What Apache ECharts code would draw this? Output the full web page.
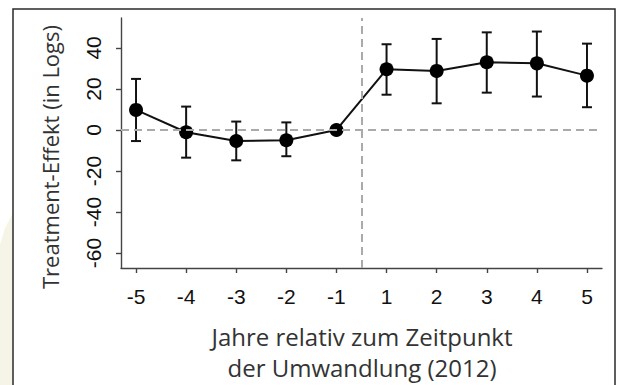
<!DOCTYPE html>
<html>
<head>
<meta charset="utf-8">
<script src="https://cdn.jsdelivr.net/npm/echarts@6/dist/echarts.min.js"></script>
<style>
html,body{margin:0;padding:0;background:#fff;}
#c{width:622px;height:385px;}
</style>
</head>
<body>
<div id="c"></div>
<script>
// Data
const categories = ['-5','-4','-3','-2','-1','1','2','3','4','5'];
const estimates = [9.8, -1.1, -5.4, -5.0, 0.0, 29.6, 28.8, 33.0, 32.5, 26.5];
const upper =     [24.9, 11.4, 4.1, 3.7, 0.0, 41.8, 44.4, 47.6, 48.0, 42.1];
const lower =     [-5.4, -13.5, -14.8, -12.8, 0.0, 17.2, 13.0, 18.2, 16.3, 11.1];
const yTicks = [-60, -40, -20, 0, 20, 40];
const yTitle = 'Treatment-Effekt (in Logs)';
const xTitle = 'Jahre relativ zum Zeitpunkt\nder Umwandlung (2012)';
const treatmentBreak = 4.5; // between -1 and 1

const idx = categories.map((c, i) => i);
const pointData = estimates.map((v, i) => [i, v]);
const errData = estimates.map((v, i) => [i, lower[i], upper[i]]);

const chart = echarts.init(document.getElementById('c'), null, {renderer: 'svg'});
const axisColor = '#444';
const tickFont = 'Liberation Sans, Arial, sans-serif';
const option = {
  animation: false,
  backgroundColor: '#fff',
  grid: {left: 121, right: 20, top: 18, bottom: 117},
  xAxis: {
    type: 'value', min: -0.3, max: 9.3,
    axisLine: {show: true, onZero: false, lineStyle: {color: axisColor, width: 1.4}},
    axisTick: {show: true, inside: false, length: 5, customValues: idx, lineStyle: {color: axisColor, width: 1.4}},
    axisLabel: {customValues: idx, formatter: v => categories[Math.round(v)], color: '#111',
      fontFamily: tickFont, fontSize: 21, margin: 18},
    splitLine: {show: false}
  },
  yAxis: {
    type: 'value', min: -67.3, max: 54.6,
    axisLine: {show: true, onZero: false, lineStyle: {color: axisColor, width: 1.4}},
    axisTick: {show: true, inside: false, length: 5, customValues: yTicks, lineStyle: {color: axisColor, width: 1.4}},
    axisLabel: {customValues: yTicks, rotate: 90, color: '#111',
      fontFamily: tickFont, fontSize: 21, margin: 17},
    splitLine: {show: false}
  },
  graphic: [
    {type: 'polygon', z: -10, silent: true,
      shape: {points: [[0, 245], [5, 228], [13, 213], [13, 385], [0, 385]]},
      style: {fill: '#f6f4e6'}},
    {type: 'rect', z: 100, silent: true,
      shape: {x: 13, y: 9, width: 602, height: 400},
      style: {fill: 'none', stroke: '#2a2a2a', lineWidth: 1.5}},
    {type: 'text', z: 100, silent: true, x: 50, y: 157, rotation: Math.PI / 2,
      style: {text: yTitle, fill: '#333', font: '22px "Open Sans", sans-serif',
        align: 'center', verticalAlign: 'middle'}},
    {type: 'text', z: 100, silent: true, x: 362, y: 352,
      style: {text: xTitle, fill: '#333', font: '24px "Open Sans", sans-serif',
        align: 'center', verticalAlign: 'middle', lineHeight: 31}}
  ],
  series: [
    {
      type: 'line', data: pointData, symbol: 'none', silent: true,
      lineStyle: {opacity: 0},
      markLine: {
        silent: true, symbol: 'none', label: {show: false},
        lineStyle: {color: '#aaa', type: [8, 5], width: 2},
        data: [{yAxis: 0}, {xAxis: treatmentBreak}]
      }
    },
    {
      type: 'custom', data: errData, silent: true, z: 3,
      renderItem: function (params, api) {
        const x = api.value(0);
        const lo = api.coord([x, api.value(1)]);
        const hi = api.coord([x, api.value(2)]);
        if (Math.abs(lo[1] - hi[1]) < 0.5) return null;
        const w = 5;
        const st = {stroke: '#111', lineWidth: 2, fill: 'none'};
        return {type: 'group', children: [
          {type: 'line', shape: {x1: lo[0], y1: lo[1], x2: hi[0], y2: hi[1]}, style: st},
          {type: 'line', shape: {x1: hi[0] - w, y1: hi[1], x2: hi[0] + w, y2: hi[1]}, style: st},
          {type: 'line', shape: {x1: lo[0] - w, y1: lo[1], x2: lo[0] + w, y2: lo[1]}, style: st}
        ]};
      }
    },
    {
      type: 'line', data: pointData, z: 4, silent: true,
      symbol: 'circle', symbolSize: 14, showAllSymbol: true,
      lineStyle: {color: '#111', width: 2},
      itemStyle: {color: '#000', borderWidth: 0}
    }
  ]
};
chart.setOption(option);
</script>
</body>
</html>
